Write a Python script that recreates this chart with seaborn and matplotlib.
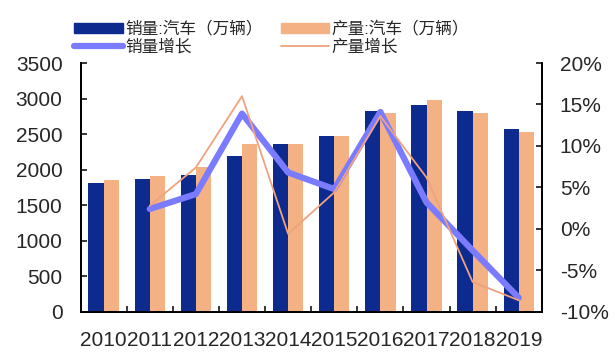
import numpy as np
import pandas as pd
import seaborn as sns
import matplotlib.pyplot as plt
from matplotlib.ticker import MultipleLocator, FuncFormatter, FixedLocator

years = ['2010', '2011', '2012', '2013', '2014', '2015', '2016', '2017', '2018', '2019']
sales = [1817, 1873, 1924, 2197, 2365, 2468, 2819, 2903, 2819, 2576]
production = [1850, 1906, 2037, 2365, 2365, 2468, 2795, 2983, 2795, 2528]
sales_growth = [np.nan, 2.4, 4.2, 13.9, 6.8, 4.8, 14.1, 3.2, -2.6, -8.3]
prod_growth = [np.nan, 2.8, 7.4, 16.0, -0.6, 4.4, 13.6, 6.2, -6.4, -8.6]

SALES_LABEL = '销量:汽车（万辆）'
PROD_LABEL = '产量:汽车（万辆）'
SALES_G_LABEL = '销量增长'
PROD_G_LABEL = '产量增长'

SALES_COLOR = '#0D2A8F'
PROD_COLOR = '#F4B183'
SALES_G_COLOR = '#7B7BFF'
PROD_G_COLOR = '#EFA27E'


def main():
    sns.set_style('white')
    plt.rcParams['font.family'] = ['Liberation Sans', 'Noto Sans CJK SC', 'DejaVu Sans']

    bars = pd.DataFrame({
        'year': years * 2,
        'value': sales + production,
        'series': [SALES_LABEL] * len(years) + [PROD_LABEL] * len(years),
    })
    growth = pd.DataFrame({
        'pos': np.arange(len(years)),
        'sales': np.array(sales_growth) / 100,
        'prod': np.array(prod_growth) / 100,
    })

    fig = plt.figure(figsize=(6.15, 3.56), dpi=100)
    ax = fig.add_axes([0.131, 0.124, 0.750, 0.699])

    sns.barplot(
        data=bars, x='year', y='value', hue='series', order=years,
        palette=[SALES_COLOR, PROD_COLOR], width=0.66, saturation=1,
        linewidth=0, ax=ax, legend=False,
    )
    ax.set_ylim(0, 3500)
    ax.set_xlim(-0.5, len(years) - 0.5)
    ax.yaxis.set_major_locator(MultipleLocator(500))
    ax.set_xlabel('')
    ax.set_ylabel('')

    ax2 = ax.twinx()
    sns.lineplot(data=growth, x='pos', y='sales', color=SALES_G_COLOR,
                 linewidth=4.5, ax=ax2)
    sns.lineplot(data=growth, x='pos', y='prod', color=PROD_G_COLOR,
                 linewidth=1.3, ax=ax2)
    ax2.set_ylim(-0.10, 0.20)
    ax2.yaxis.set_major_locator(MultipleLocator(0.05))
    ax2.yaxis.set_major_formatter(FuncFormatter(lambda v, _: f'{v * 100:.0f}%'.replace('−', '-')))
    ax2.set_ylabel('')
    ax2.set_xlim(-0.5, len(years) - 0.5)

    # tick marks between categories, labels at category centres
    ax.xaxis.set_minor_locator(FixedLocator(np.arange(0.5, len(years) - 1, 1.0)))
    ax.tick_params(axis='x', which='major', length=0, pad=14, labelsize=15)
    ax.tick_params(axis='x', which='minor', direction='in', length=4, width=1.3,
                   bottom=True)
    ax.tick_params(axis='y', direction='in', length=4, width=1.3, pad=13,
                   labelsize=15, left=True)
    ax2.tick_params(axis='y', direction='in', length=4, width=1.3, pad=13,
                    labelsize=15, right=True)

    for a in (ax, ax2):
        for side in ('left', 'bottom', 'right'):
            a.spines[side].set_linewidth(1.3)
            a.spines[side].set_color('black')
        a.spines['top'].set_visible(False)

    handles = [
        plt.Rectangle((0, 0), 1, 1, color=SALES_COLOR),
        plt.Line2D([], [], color=SALES_G_COLOR, linewidth=4.5, solid_capstyle='round'),
        plt.Rectangle((0, 0), 1, 1, color=PROD_COLOR),
        plt.Line2D([], [], color=PROD_G_COLOR, linewidth=1.3),
    ]
    labels = [SALES_LABEL, SALES_G_LABEL, PROD_LABEL, PROD_G_LABEL]
    fig.legend(
        handles, labels, ncol=2, loc='upper left', bbox_to_anchor=(0.11, 0.96),
        frameon=False, fontsize=12, handlelength=2.9, handleheight=0.5,
        handletextpad=0.15, labelspacing=0.12, columnspacing=1.1,
        borderaxespad=0,
    )

    plt.savefig('out.png', dpi=100)
    plt.close()


main()
